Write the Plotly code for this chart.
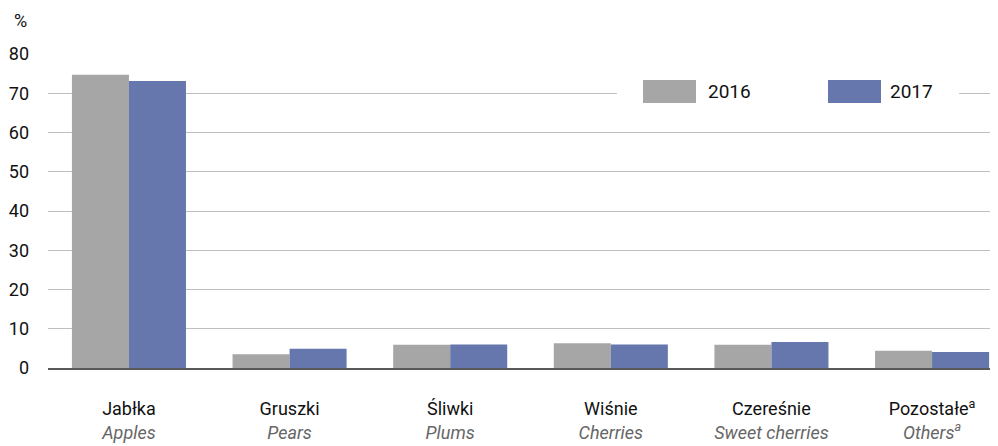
import plotly.graph_objects as go

categories_pl = ["Jabłka", "Gruszki", "Śliwki", "Wiśnie", "Czereśnie", "Pozostałe<sup>a</sup>"]
categories_en = ["Apples", "Pears", "Plums", "Cherries", "Sweet cherries", "Others<sup>a</sup>"]
series_names = ["2016", "2017"]
values_2016 = [74.7, 3.5, 5.9, 6.3, 5.9, 4.4]
values_2017 = [73.1, 4.9, 6.0, 6.0, 6.6, 4.1]
y_ticks = [0, 10, 20, 30, 40, 50, 60, 70, 80]

C16 = "#A6A6A6"
C17 = "#6677AE"
FONT = "Roboto"

OFF = 8  # page body margin
W, H = 998 - OFF, 446 - OFF
ML, MR, MT, MB = 48 - OFF, 2, 54 - OFF, 78
PW, PH = W - ML - MR, H - MT - MB

def px_x(px):
    return (px - OFF - ML) / PW

def px_y(py):
    return (H - MB - (py - OFF)) / PH

ticktext = [f"{pl}<br><i><span style='color:#666666'>{en}</span></i>"
            for pl, en in zip(categories_pl, categories_en)]

fig = go.Figure()
fig.add_trace(go.Bar(x=categories_pl, y=values_2016, name=series_names[0],
                     marker=dict(color=C16, line=dict(width=0)), showlegend=False))
fig.add_trace(go.Bar(x=categories_pl, y=values_2017, name=series_names[1],
                     marker=dict(color=C17, line=dict(width=0)), showlegend=False))

shapes = [
    dict(type="rect", xref="paper", yref="paper", x0=px_x(617), x1=px_x(959),
         y0=px_y(108), y1=px_y(77), fillcolor="white", line=dict(width=0), layer="above"),
    dict(type="rect", xref="paper", yref="paper", x0=px_x(643), x1=px_x(696),
         y0=px_y(103), y1=px_y(80), fillcolor=C16, line=dict(width=0), layer="above"),
    dict(type="rect", xref="paper", yref="paper", x0=px_x(828), x1=px_x(881),
         y0=px_y(103), y1=px_y(80), fillcolor=C17, line=dict(width=0), layer="above"),
]
annotations = [
    dict(text=series_names[0], xref="paper", yref="paper", x=px_x(706), y=px_y(91.5),
         xanchor="left", yanchor="middle", showarrow=False, font=dict(size=19, color="#111")),
    dict(text=series_names[1], xref="paper", yref="paper", x=px_x(888), y=px_y(91.5),
         xanchor="left", yanchor="middle", showarrow=False, font=dict(size=19, color="#111")),
    dict(text="%", xref="paper", yref="paper", x=px_x(29), y=px_y(20),
         xanchor="right", yanchor="middle", showarrow=False, font=dict(size=18, color="#111")),
]

fig.update_layout(
    width=W, height=H,
    margin=dict(l=ML, r=MR, t=MT, b=MB),
    paper_bgcolor="white", plot_bgcolor="white",
    barmode="group", bargap=0.29, bargroupgap=0,
    font=dict(family=FONT, size=17, color="#111111"),
    shapes=shapes, annotations=annotations,
    xaxis=dict(tickmode="array", tickvals=categories_pl, ticktext=ticktext,
               range=[-0.504, 5.398],
               showgrid=False, showline=True, linecolor="#595959", linewidth=1.5,
               ticks="", ticklabelstandoff=24, tickfont=dict(size=18, color="#111")),
    yaxis=dict(range=[0, 80], tickvals=y_ticks, showgrid=True, gridcolor="#BFBFBF",
               gridwidth=1, zeroline=False, showline=False, ticks="",
               ticklabelstandoff=18, tickfont=dict(size=18, color="#111")),
)

fig.write_html("out.html")
